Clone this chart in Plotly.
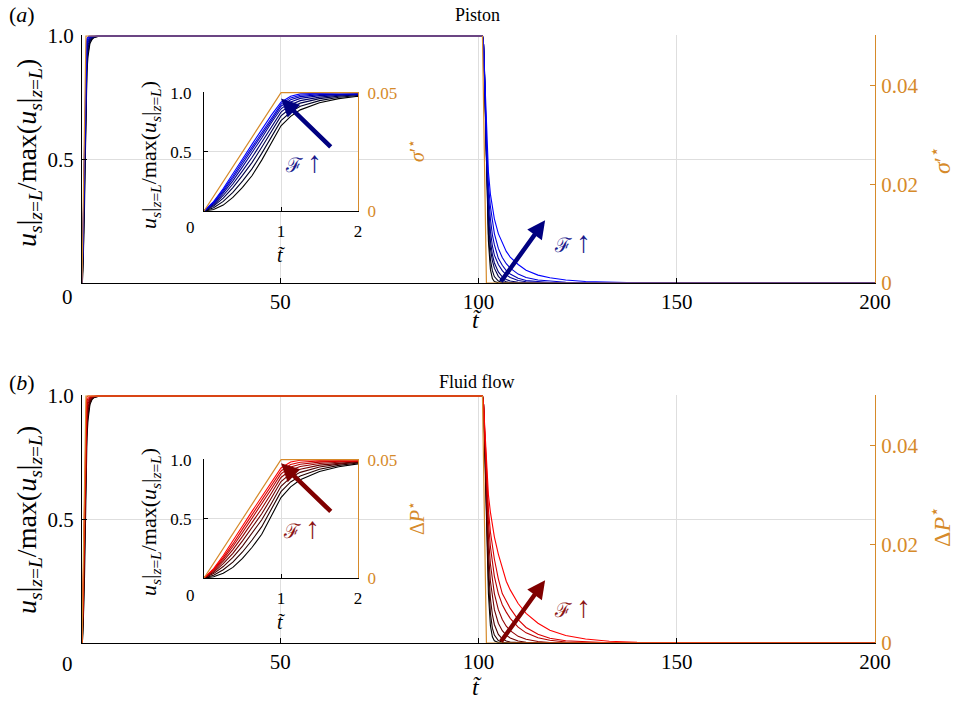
import plotly.graph_objects as go

# ---------------- data ----------------
t_rise = [0, 0.125, 0.25, 0.375, 0.5, 0.625, 0.75, 0.875, 1.0, 1.125, 1.25, 1.5, 1.75, 2.0, 2.5, 3.0, 4.0, 6.0]
t_fall = [101, 101.25, 101.5, 101.75, 102, 102.5, 103, 103.5, 104, 105, 106, 107, 108, 110, 112, 115, 118,
          122, 127, 133, 140, 150, 170, 200]

# Panel (a) Piston: curves ordered from black (low F) to blue (high F)
rise_a = [
    [0, 0.012, 0.05, 0.115, 0.20, 0.30, 0.43, 0.58, 0.72, 0.80, 0.855, 0.915, 0.95, 0.97, 0.985, 0.993, 0.998, 1.0],
    [0, 0.027, 0.081, 0.158, 0.253, 0.358, 0.487, 0.631, 0.764, 0.837, 0.885, 0.933, 0.961, 0.977, 0.988, 0.995, 0.998, 1.0],
    [0, 0.041, 0.109, 0.197, 0.301, 0.411, 0.539, 0.677, 0.804, 0.871, 0.912, 0.950, 0.971, 0.983, 0.991, 0.996, 0.999, 1.0],
    [0, 0.051, 0.131, 0.228, 0.339, 0.454, 0.581, 0.713, 0.836, 0.899, 0.933, 0.963, 0.979, 0.987, 0.994, 0.997, 0.999, 1.0],
    [0, 0.061, 0.151, 0.255, 0.373, 0.491, 0.617, 0.746, 0.864, 0.922, 0.952, 0.975, 0.986, 0.992, 0.996, 0.998, 1.0, 1.0],
    [0, 0.068, 0.166, 0.277, 0.399, 0.520, 0.646, 0.771, 0.886, 0.941, 0.967, 0.984, 0.992, 0.995, 0.997, 0.999, 1.0, 1.0],
    [0, 0.075, 0.179, 0.294, 0.421, 0.544, 0.669, 0.792, 0.904, 0.956, 0.979, 0.991, 0.996, 0.998, 0.999, 1.0, 1.0, 1.0],
    [0, 0.080, 0.190, 0.310, 0.440, 0.565, 0.690, 0.810, 0.920, 0.970, 0.990, 0.998, 1.0, 1.0, 1.0, 1.0, 1.0, 1.0],
]
fall_a = [
    [1, 0.97, 0.85, 0.66, 0.45, 0.17, 0.055, 0.018, 0.006, 0.001, 0, 0, 0, 0, 0, 0, 0, 0, 0, 0, 0, 0, 0, 0],
    [1, 0.97, 0.85, 0.66, 0.46, 0.20, 0.095, 0.05, 0.026, 0.008, 0.002, 0, 0, 0, 0, 0, 0, 0, 0, 0, 0, 0, 0, 0],
    [1, 0.97, 0.86, 0.67, 0.48, 0.24, 0.14, 0.09, 0.06, 0.027, 0.012, 0.005, 0.002, 0, 0, 0, 0, 0, 0, 0, 0, 0, 0, 0],
    [1, 0.97, 0.86, 0.68, 0.50, 0.28, 0.17, 0.115, 0.082, 0.045, 0.025, 0.014, 0.008, 0.003, 0.001, 0, 0, 0, 0, 0, 0, 0, 0, 0],
    [1, 0.97, 0.86, 0.69, 0.52, 0.32, 0.21, 0.15, 0.113, 0.075, 0.05, 0.033, 0.022, 0.01, 0.005, 0.002, 0, 0, 0, 0, 0, 0, 0, 0],
    [1, 0.97, 0.87, 0.70, 0.54, 0.36, 0.26, 0.195, 0.155, 0.10, 0.072, 0.05, 0.036, 0.019, 0.01, 0.005, 0.002, 0.001, 0, 0, 0, 0, 0, 0],
    [1, 0.97, 0.87, 0.72, 0.57, 0.40, 0.31, 0.245, 0.20, 0.14, 0.103, 0.078, 0.06, 0.036, 0.022, 0.012, 0.007, 0.003, 0.001, 0, 0, 0, 0, 0],
    [1, 0.97, 0.87, 0.73, 0.60, 0.45, 0.36, 0.30, 0.26, 0.20, 0.16, 0.128, 0.105, 0.075, 0.052, 0.032, 0.021, 0.012, 0.006, 0.003, 0.001, 0, 0, 0],
]

# Panel (b) Fluid flow: curves ordered from black (low F) to red (high F)
rise_b = [
    [0, 0.010, 0.040, 0.090, 0.165, 0.260, 0.370, 0.520, 0.680, 0.770, 0.830, 0.900, 0.940, 0.965, 0.985, 0.993, 0.998, 1.0],
    [0, 0.024, 0.070, 0.134, 0.220, 0.321, 0.434, 0.578, 0.730, 0.812, 0.863, 0.920, 0.952, 0.972, 0.988, 0.994, 0.998, 1.0],
    [0, 0.037, 0.097, 0.174, 0.270, 0.376, 0.492, 0.630, 0.775, 0.850, 0.893, 0.938, 0.963, 0.978, 0.991, 0.996, 0.999, 1.0],
    [0, 0.048, 0.121, 0.209, 0.314, 0.425, 0.543, 0.677, 0.815, 0.883, 0.919, 0.954, 0.972, 0.984, 0.993, 0.997, 0.999, 1.0],
    [0, 0.058, 0.142, 0.240, 0.352, 0.467, 0.588, 0.717, 0.850, 0.913, 0.942, 0.968, 0.981, 0.989, 0.995, 0.998, 1.0, 1.0],
    [0, 0.066, 0.160, 0.266, 0.385, 0.504, 0.626, 0.752, 0.880, 0.938, 0.962, 0.980, 0.988, 0.993, 0.997, 0.999, 1.0, 1.0],
    [0, 0.073, 0.175, 0.288, 0.413, 0.535, 0.658, 0.781, 0.905, 0.959, 0.979, 0.990, 0.994, 0.997, 0.999, 1.0, 1.0, 1.0],
    [0, 0.080, 0.190, 0.310, 0.440, 0.565, 0.690, 0.810, 0.930, 0.980, 0.995, 1.0, 1.0, 1.0, 1.0, 1.0, 1.0, 1.0],
]
fall_b = [
    [1, 0.97, 0.83, 0.64, 0.46, 0.20, 0.07, 0.025, 0.009, 0.002, 0, 0, 0, 0, 0, 0, 0, 0, 0, 0, 0, 0, 0, 0],
    [1, 0.97, 0.84, 0.67, 0.50, 0.26, 0.12, 0.06, 0.032, 0.01, 0.003, 0.001, 0, 0, 0, 0, 0, 0, 0, 0, 0, 0, 0, 0],
    [1, 0.97, 0.85, 0.69, 0.53, 0.31, 0.18, 0.115, 0.075, 0.035, 0.017, 0.008, 0.004, 0.001, 0, 0, 0, 0, 0, 0, 0, 0, 0, 0],
    [1, 0.97, 0.86, 0.71, 0.57, 0.37, 0.25, 0.18, 0.135, 0.08, 0.05, 0.032, 0.02, 0.008, 0.003, 0.001, 0, 0, 0, 0, 0, 0, 0, 0],
    [1, 0.97, 0.87, 0.74, 0.61, 0.43, 0.32, 0.25, 0.20, 0.135, 0.095, 0.068, 0.05, 0.027, 0.015, 0.006, 0.002, 0.001, 0, 0, 0, 0, 0, 0],
    [1, 0.97, 0.88, 0.76, 0.65, 0.49, 0.39, 0.32, 0.27, 0.20, 0.155, 0.125, 0.10, 0.064, 0.041, 0.021, 0.011, 0.004, 0.001, 0, 0, 0, 0, 0],
    [1, 0.97, 0.89, 0.78, 0.68, 0.54, 0.45, 0.39, 0.34, 0.26, 0.20, 0.17, 0.14, 0.095, 0.063, 0.035, 0.019, 0.009, 0.004, 0.001, 0, 0, 0, 0],
    [1, 0.97, 0.90, 0.80, 0.72, 0.60, 0.53, 0.48, 0.43, 0.36, 0.30, 0.25, 0.215, 0.16, 0.12, 0.08, 0.052, 0.03, 0.016, 0.007, 0.003, 0.001, 0, 0],
]

# Imposed loading (right axis)
t_input = [0, 1, 101, 102, 200]
load_input = [0, 0.05, 0.05, 0, 0]

main_xticks = [0, 50, 100, 150, 200]
main_xticklabels = ["", "50", "100", "150", "200"]
main_yticks = [0.5, 1.0]
main_yticklabels = ["0.5", "1.0"]
main_rticks = [0, 0.02, 0.04]
main_rticklabels = ["0", "0.02", "0.04"]
inset_xticks = [0, 1, 2]
inset_xticklabels = ["", "1", "2"]
inset_yticks = [0.5, 1.0]
inset_yticklabels = ["0.5", "1.0"]
inset_rticks = [0, 0.05]
inset_rticklabels = ["0", "0.05"]

# ---------------- style ----------------
W, H = 955, 706
ORANGE = "rgb(214,138,42)"
GRID = "rgb(222,222,222)"
FONT = "Liberation Serif"


def px_x(p):
    return p / W


def px_y(p):
    return 1 - p / H


fig = go.Figure()
t_all = t_rise + t_fall
panels = [
    dict(rise=rise_a, fall=fall_a, end=(0, 0, 255), xm="x", ym="y", yr="y2", xi="x2", yi="y3", yir="y4"),
    dict(rise=rise_b, fall=fall_b, end=(255, 0, 0), xm="x3", ym="y5", yr="y6", xi="x4", yi="y7", yir="y8"),
]
for P in panels:
    n = len(P["rise"])
    for xa, ya, yra in [(P["xm"], P["ym"], P["yr"]), (P["xi"], P["yi"], P["yir"])]:
        for k in range(n):
            f = k / (n - 1)
            col = "rgb(%d,%d,%d)" % tuple(round(c * f) for c in P["end"])
            fig.add_trace(go.Scatter(x=t_all, y=P["rise"][k] + P["fall"][k], mode="lines",
                                     line=dict(color=col, width=1.1), xaxis=xa, yaxis=ya,
                                     showlegend=False, hoverinfo="skip"))
        fig.add_trace(go.Scatter(x=t_input, y=load_input, mode="lines",
                                 line=dict(color=ORANGE, width=1.2), xaxis=xa, yaxis=yra,
                                 showlegend=False, hoverinfo="skip"))

tick_main = dict(family=FONT, size=21, color="black")
tick_in = dict(family=FONT, size=17, color="black")
main_dom_x = [px_x(82), px_x(875)]
in_dom_x = [px_x(204), px_x(358)]
main_doms_y = [[px_y(283), px_y(35)], [px_y(643), px_y(395)]]
in_doms_y = [[px_y(211), px_y(92)], [px_y(578), px_y(459)]]

layout = dict(width=W, height=H, margin=dict(l=0, r=0, t=0, b=0, autoexpand=False),
              paper_bgcolor="white", plot_bgcolor="white", showlegend=False)


def xaxis_main(anchor):
    return dict(domain=main_dom_x, anchor=anchor, range=[0, 200], tickmode="array",
                tickvals=main_xticks, ticktext=main_xticklabels, showgrid=True, gridcolor=GRID,
                showline=True, linecolor="black", linewidth=1, ticks="inside",
                ticklen=5, tickcolor="black", tickfont=tick_main, zeroline=False, ticklabelstandoff=0)


def yaxis_main(anchor, dom):
    return dict(domain=dom, anchor=anchor, range=[0, 1.004], tickmode="array",
                tickvals=main_yticks, ticktext=main_yticklabels, showgrid=True, gridcolor=GRID,
                showline=True, linecolor="black", linewidth=1, ticks="inside", ticklen=5,
                tickcolor="black", tickfont=tick_main, zeroline=False, ticklabelstandoff=3)


def yaxis_right(anchor, over, rng, vals, labels, font, standoff):
    return dict(overlaying=over, side="right", anchor=anchor, range=rng, tickmode="array",
                tickvals=vals, ticktext=labels, showgrid=False, showline=True, linecolor=ORANGE,
                linewidth=1.2, ticks="inside", ticklen=5, tickcolor=ORANGE,
                tickfont=dict(family=FONT, size=font["size"], color=ORANGE), zeroline=False,
                ticklabelstandoff=standoff)


def xaxis_in(anchor):
    return dict(domain=in_dom_x, anchor=anchor, range=[0, 2], tickmode="array",
                tickvals=inset_xticks, ticktext=inset_xticklabels, showgrid=True, gridcolor=GRID,
                showline=True, linecolor="black", linewidth=1, ticks="inside", ticklen=4,
                tickcolor="black", tickfont=tick_in, zeroline=False, ticklabelstandoff=5)


def yaxis_in(anchor, dom):
    return dict(domain=dom, anchor=anchor, range=[0, 1.006], tickmode="array",
                tickvals=inset_yticks, ticktext=inset_yticklabels, showgrid=True, gridcolor=GRID,
                showline=True, linecolor="black", linewidth=1, ticks="inside", ticklen=4,
                tickcolor="black", tickfont=tick_in, zeroline=False, ticklabelstandoff=8)


layout["xaxis"] = xaxis_main("y")
layout["yaxis"] = yaxis_main("x", main_doms_y[0])
layout["yaxis2"] = yaxis_right("x", "y", [0, 0.05 * 1.004], main_rticks, main_rticklabels, tick_main, 1)
layout["xaxis2"] = xaxis_in("y3")
layout["yaxis3"] = yaxis_in("x2", in_doms_y[0])
layout["yaxis4"] = yaxis_right("x2", "y3", [0, 0.05 * 1.006], inset_rticks, inset_rticklabels, tick_in, 5)
layout["xaxis3"] = xaxis_main("y5")
layout["yaxis5"] = yaxis_main("x3", main_doms_y[1])
layout["yaxis6"] = yaxis_right("x3", "y5", [0, 0.05 * 1.004], main_rticks, main_rticklabels, tick_main, 1)
layout["xaxis4"] = xaxis_in("y7")
layout["yaxis7"] = yaxis_in("x4", in_doms_y[1])
layout["yaxis8"] = yaxis_right("x4", "y7", [0, 0.05 * 1.006], inset_rticks, inset_rticklabels, tick_in, 5)
fig.update_layout(**layout)

ylab = "<i>u</i><sub><i>s</i></sub>|<sub><i>z</i>=<i>L</i></sub>/max(<i>u</i><sub><i>s</i></sub>|<sub><i>z</i>=<i>L</i></sub>)"
sig = "<i>σ</i>′<sup>⋆</sup>"
dP = "Δ<i>P</i><sup>⋆</sup>"
tt = "<i>t̃</i>"
ann = []


def txt(x, y, s, size, color="black", angle=0, xa="center", ya="middle"):
    ann.append(dict(x=px_x(x), y=px_y(y), xref="paper", yref="paper", text=s, showarrow=False,
                    textangle=angle, xanchor=xa, yanchor=ya,
                    font=dict(family=FONT, size=size, color=color)))


for dy, title, lab, rlab in [(0, "Piston", "(<i>a</i>)", sig), (367, "Fluid flow", "(<i>b</i>)", dP)]:
    txt(477, 15 + dy, title, 18)
    txt(22, 15 + dy, lab, 22)
    txt(28, 153 + dy, ylab, 28, angle=-90)
    txt(940, 160 + dy, rlab, 24, color=ORANGE, angle=-90)
    txt(477, 320 + dy, tt, 24)
    txt(67, 297 + dy, "0", 21)
    txt(150, 155 + dy, ylab, 22, angle=-90)
    txt(416, 151 + dy, rlab, 20, color=ORANGE, angle=-90)
    txt(281, 255 + dy, tt, 20)
    txt(190, 228 + dy, "0", 17)

# arrows and F labels (data coordinates of each axis pair)
arrows = [
    ("x", "y", 116.8, 0.254, 105.4, 0.0, "rgb(0,0,128)", 123.6, 0.167, "rgb(25,25,140)"),
    ("x2", "y3", 1.0, 0.95, 1.665, 0.53, "rgb(0,0,128)", 1.29, 0.42, "rgb(25,25,140)"),
    ("x3", "y5", 116.8, 0.254, 105.4, 0.0, "rgb(128,0,0)", 123.8, 0.146, "rgb(140,20,20)"),
    ("x4", "y7", 1.0, 0.97, 1.666, 0.55, "rgb(128,0,0)", 1.27, 0.43, "rgb(140,20,20)"),
]
for xa, ya, hx, hy, tx, ty, col, lx, ly, lcol in arrows:
    ann.append(dict(x=hx, y=hy, xref=xa, yref=ya, ax=tx, ay=ty, axref=xa, ayref=ya, text="",
                    showarrow=True, arrowhead=2, arrowsize=0.8, arrowwidth=4.5, arrowcolor=col,
                    standoff=0, startstandoff=0))
    ann.append(dict(x=lx, y=ly, xref=xa, yref=ya,
                    text="ℱ <span style='font-size:30px'>↑</span>", showarrow=False,
                    font=dict(family=FONT, size=20, color=lcol)))
fig.update_layout(annotations=ann)

fig.write_html("out.html")
